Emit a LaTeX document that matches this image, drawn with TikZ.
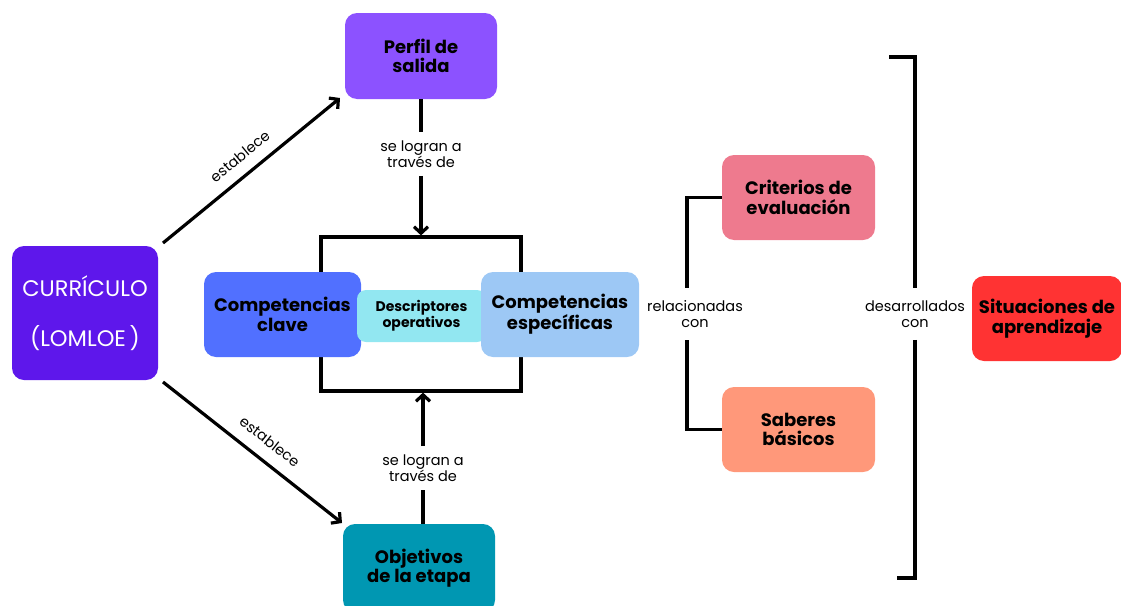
\documentclass[tikz,border=0pt]{standalone}
\usepackage{fontspec}
\setmainfont{Poppins}
\usetikzlibrary{arrows.meta}
\definecolor{cCur}{HTML}{5E17EB}
\definecolor{cPerfil}{HTML}{8C52FF}
\definecolor{cCC}{HTML}{5170FF}
\definecolor{cDesc}{HTML}{92E7F1}
\definecolor{cCE}{HTML}{9DC8F5}
\definecolor{cObj}{HTML}{0097B2}
\definecolor{cCrit}{HTML}{EE7A8E}
\definecolor{cSab}{HTML}{FF987A}
\definecolor{cSit}{HTML}{FF3333}
\tikzset{
  box/.style={rounded corners=12pt, align=center, inner sep=2pt,
    font=\fontsize{18}{19.5}\selectfont\bfseries, text=black},
  lbl/.style={align=center, font=\fontsize{14.5}{16.5}\selectfont, text=black},
  conn/.style={line width=3.2pt, line cap=butt},
  arr/.style={conn, -{Straight Barb[length=6.5pt,width=14pt,line width=3.2pt]}},
}
\begin{document}
\begin{tikzpicture}[x=1pt,y=-1pt]
\useasboundingbox (0,0) rectangle (1121,605);
% frame
\node[draw, line width=3.2pt, minimum width=200pt, minimum height=154pt, inner sep=0pt] (frame) at (421,314) {};
% nodes
\node[box, fill=cCur, text=white, minimum width=146pt, minimum height=134pt,
  font=\fontsize{22.5}{50}\selectfont] (cur) at (85,313) {CURRÍCULO\\(LOMLOE\,)};
\node[box, fill=cPerfil, minimum width=152pt, minimum height=86pt] (perfil) at (421,56) {Perfil de\\salida};
\node[box, fill=cCC, minimum width=157pt, minimum height=85pt] (cc) at (282.5,314.5) {Competencias\\clave};
\node[box, fill=cDesc, rounded corners=9pt, minimum width=129pt, minimum height=52pt,
  font=\fontsize{14}{16}\selectfont\bfseries] (desc) at (421.5,316) {Descriptores\\operativos};
\node[box, fill=cCE, minimum width=158pt, minimum height=85pt] (ce) at (560,314.5) {Competencias\\específicas};
\node[box, fill=cObj, minimum width=152pt, minimum height=88pt] (obj) at (419,568) {Objetivos\\de la etapa};
\node[box, fill=cCrit, minimum width=153pt, minimum height=85pt] (crit) at (798.5,197.5) {Criterios de\\evaluación};
\node[box, fill=cSab, minimum width=153pt, minimum height=85pt] (sab) at (798.5,429.5) {Saberes\\básicos};
\node[box, fill=cSit, minimum width=150pt, minimum height=85pt] (sit) at (1047,318.5) {Situaciones de\\aprendizaje};
% establece arrows
\draw[arr] (163,243) -- (340,98) node[lbl, pos=0.5, sloped, above=8pt] (e1) {establece};
\draw[arr] (163,382) -- (342,523) node[lbl, pos=0.53, sloped, above=9pt] (e2) {establece};
% se logran
\node[lbl, inner ysep=8pt] (l1) at (421,154) {se logran a\\través de};
\draw[conn] (perfil.south) -- (l1.north);
\draw[arr] (l1.south) -- (frame.north);
\node[lbl, inner ysep=8pt] (l2) at (423,468) {se logran a\\través de};
\draw[conn] (obj.north -| l2.south) -- (l2.south);
\draw[arr] (l2.north) -- (frame.south -| l2.north);
% relacionadas con
\node[lbl, inner ysep=12pt] (rel) at (695,314) {relacionadas\\con};
\draw[conn] ([xshift=-8pt]rel.north) |- (crit.west);
\draw[conn] ([xshift=-8pt]rel.south) |- (sab.west);
% desarrollados con
\node[lbl, inner ysep=12pt] (dev) at (915,314) {desarrollados\\con};
\coordinate (bt) at (889,57);
\coordinate (bb) at (897,578);
\draw[conn] (bt) -| (dev.north);
\draw[conn] (dev.south) |- (bb);
\end{tikzpicture}
\end{document}
